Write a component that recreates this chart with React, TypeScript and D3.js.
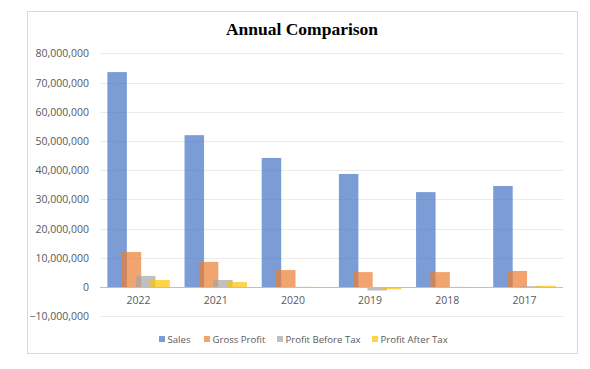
import React from 'react';
import * as d3 from 'd3';

const years = ['2022', '2021', '2020', '2019', '2018', '2017'];
const sales = [73600000, 52000000, 44200000, 38700000, 32500000, 34600000];
const grossProfit = [12000000, 8600000, 5800000, 5100000, 5100000, 5500000];
const profitBeforeTax = [3800000, 2400000, 50000, -1200000, 30000, 300000];
const profitAfterTax = [2400000, 1700000, 30000, -800000, 20000, 400000];
const yTicks = [-10000000, 0, 10000000, 20000000, 30000000, 40000000, 50000000, 60000000, 70000000, 80000000];

const seriesNames = ['Sales', 'Gross Profit', 'Profit Before Tax', 'Profit After Tax'];
const seriesData = [sales, grossProfit, profitBeforeTax, profitAfterTax];
const colors = ['#4472C4', '#ED7D31', '#A5A5A5', '#FFC000'];

const W = 590;
const H = 369;

export default function App() {
  const left = 100;
  const right = 563;
  const y = d3.scaleLinear().domain([-10000000, 80000000]).range([316.2, 53.4]);
  const x = d3.scaleBand().domain(years).range([left, right]);
  const band = x.bandwidth();
  const barW = 19.5;
  const step = 14.3;
  const groupW = step * 3 + barW;
  const fmt = d3.format(',');
  const labelFont = '"Open Sans", "Liberation Sans", sans-serif';

  return (
    <svg width={W} height={H} style={{ position: 'absolute', left: 0, top: 0, background: '#fff' }}>
      <rect x={27.5} y={11.5} width={550} height={342} fill="#fff" stroke="#d9d9d9" />
      <text x={302} y={35} textAnchor="middle" fontFamily='"Liberation Serif", serif' fontWeight="bold" fontSize={17.5} fill="#000">
        Annual Comparison
      </text>
      {yTicks.map(t => (
        <g key={t}>
          {t !== 0 && <line x1={left} x2={right} y1={Math.round(y(t)) + 0.5} y2={Math.round(y(t)) + 0.5} stroke="#ebebeb" />}
          <text x={89} y={y(t) + 4} textAnchor="end" fontFamily={labelFont} fontSize={10.5} fill="#595959">
            {fmt(t)}
          </text>
        </g>
      ))}
      {seriesData.map((vals, si) => (
        <g key={si}>
          {vals.map((v, i) => {
            const cx = (x(years[i]) as number) + band / 2;
            const bx = cx - groupW / 2 + si * step;
            const y0 = y(0);
            const yv = y(v);
            return (
              <rect key={i} x={bx} y={Math.min(y0, yv)} width={barW} height={Math.abs(y0 - yv)} fill={colors[si]} fillOpacity={0.7} />
            );
          })}
        </g>
      ))}
      <line x1={left} x2={right} y1={Math.round(y(0)) + 0.5} y2={Math.round(y(0)) + 0.5} stroke="#bfbfbf" />
      {years.map(yr => (
        <text key={yr} x={(x(yr) as number) + band / 2} y={y(0) + 17} textAnchor="middle" fontFamily={labelFont} fontSize={10.5} fill="#595959">
          {yr}
        </text>
      ))}
      {(() => {
        const legendX = [159, 204, 277, 372];
        return seriesNames.map((n, i) => (
          <g key={n}>
            <rect x={legendX[i]} y={336} width={6} height={6} fill={colors[i]} fillOpacity={0.7} />
            <text x={legendX[i] + 8.5} y={342.5} fontFamily={labelFont} fontSize={9.6} fill="#595959">
              {n}
            </text>
          </g>
        ));
      })()}
    </svg>
  );
}
